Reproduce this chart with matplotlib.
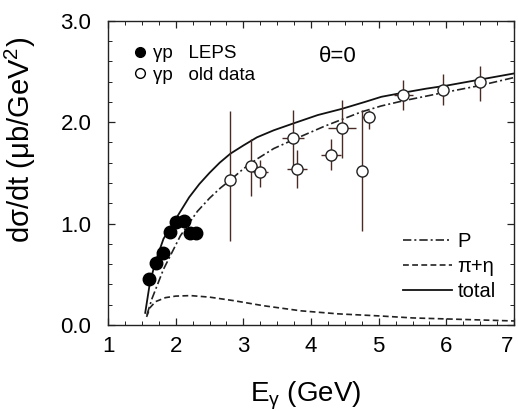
# phi photoproduction at theta=0, LEPS + old data with model curves

import numpy as np
from matplotlib import pyplot as plt
from matplotlib.ticker import MultipleLocator, FixedLocator
from matplotlib.lines import Line2D
from matplotlib.transforms import ScaledTranslation

plt.rcParams["font.family"] = ["Liberation Sans", "DejaVu Sans"]
plt.rcParams["mathtext.fontset"] = "custom"
plt.rcParams["mathtext.rm"] = "Liberation Sans"
plt.rcParams["mathtext.it"] = "Liberation Sans:italic"


# LEPS data (filled circles)
leps_e = [1.61, 1.71, 1.81, 1.92, 2.01, 2.12, 2.21, 2.30]
leps_ds = [0.45, 0.61, 0.71, 0.92, 1.02, 1.03, 0.91, 0.91]

# old data (open circles) with errors
old_e = [2.81, 3.11, 3.25, 3.73, 3.79, 4.30, 4.46, 4.75, 4.85, 5.36, 5.95, 6.49]
old_ds = [1.43, 1.57, 1.51, 1.84, 1.54, 1.68, 1.94, 1.52, 2.05, 2.27, 2.32, 2.40]
old_err_lo = [0.60, 0.30, 0.15, 0.32, 0.19, 0.15, 0.29, 0.59, 0.12, 0.15, 0.15, 0.19]
old_err_hi = [0.68, 0.26, 0.12, 0.28, 0.19, 0.15, 0.28, 0.60, 0.07, 0.15, 0.15, 0.15]
old_xerr = [0.0, 0.09, 0.11, 0.16, 0.15, 0.15, 0.21, 0.0, 0.09, 0.14, 0.08, 0.07]

# model curves
total_e = [1.55, 1.62, 1.70, 1.82, 1.95, 2.07, 2.20, 2.35, 2.50, 2.65, 2.81, 3.00,
           3.20, 3.45, 3.75, 4.10, 4.45, 4.80, 5.04, 5.36, 5.70, 6.00, 6.50, 7.00]
total_ds = [0.12, 0.42, 0.62, 0.85, 0.99, 1.12, 1.26, 1.39, 1.50, 1.60, 1.69, 1.77,
            1.85, 1.92, 1.99, 2.07, 2.13, 2.20, 2.25, 2.29, 2.33, 2.36, 2.42, 2.48]

pom_e = [1.575, 1.65, 1.82, 2.07, 2.32, 2.50, 2.66, 2.81, 3.00, 3.21, 3.45, 3.75,
         4.20, 4.74, 5.04, 5.36, 5.95, 6.49, 7.00]
pom_ds = [0.10, 0.26, 0.55, 0.88, 1.12, 1.25, 1.35, 1.43, 1.54, 1.64, 1.74, 1.83,
          1.96, 2.10, 2.16, 2.21, 2.29, 2.36, 2.44]

mes_e = [1.57, 1.62, 1.70, 1.85, 2.00, 2.22, 2.50, 2.86, 3.30, 3.85, 4.40, 5.00,
         5.50, 6.00, 6.50, 7.00]
mes_ds = [0.08, 0.17, 0.23, 0.27, 0.285, 0.29, 0.275, 0.24, 0.19, 0.14, 0.11, 0.09,
          0.07, 0.06, 0.05, 0.04]

x_ticks = [1, 2, 3, 4, 5, 6, 7]
y_ticks = [0.0, 1.0, 2.0, 3.0]


fig = plt.figure(figsize=(5.18, 4.11), dpi=100)
ax = fig.add_axes([0.2085, 0.2092, 0.7838, 0.7404])

dashdot = (0, (5, 1.8, 1.2, 1.8))
dashed = (0, (3.5, 2))

ax.plot(pom_e, pom_ds, color="#222222", lw=1.2, ls=dashdot, zorder=2)
ax.plot(mes_e, mes_ds, color="#222222", lw=1.2, ls=dashed, zorder=2)
ax.plot(total_e, total_ds, color="#111111", lw=1.3, zorder=2)

ax.errorbar(old_e, old_ds, yerr=[old_err_lo, old_err_hi], xerr=old_xerr,
            fmt="o", ms=8, mfc="white", mec="#222222", mew=1.0,
            ecolor="#4a2a24", elinewidth=1.0, capsize=0, zorder=3)
ax.plot(leps_e, leps_ds, "o", color="black", ms=9, zorder=4)

ax.text(4.40, 2.65, "θ=0", fontsize=16, ha="center", va="center")

# legends
leg1_handles = [
    Line2D([], [], ls="none", marker="o", color="black", ms=7),
    Line2D([], [], ls="none", marker="o", mfc="white", mec="black", ms=7),
]
leg1 = ax.legend(leg1_handles, ["γp   LEPS", "γp   old data"],
                 loc="upper left", bbox_to_anchor=(0.06, 0.92), frameon=False,
                 fontsize=13.5, handlelength=0.8, handletextpad=0.3,
                 labelspacing=0.25, borderpad=0, borderaxespad=0)
ax.add_artist(leg1)

leg2_handles = [
    Line2D([], [], color="#222222", lw=1.2, ls=dashdot),
    Line2D([], [], color="#222222", lw=1.2, ls=dashed),
    Line2D([], [], color="#111111", lw=1.3),
]
ax.legend(leg2_handles, ["P", "π+η", "total"], loc="upper left",
          bbox_to_anchor=(0.727, 0.305), frameon=False, fontsize=14.5,
          handlelength=2.4, handletextpad=0.3, labelspacing=0.3,
          borderpad=0, borderaxespad=0)

# axes
ax.set_xlim(1, 7)
ax.set_ylim(0, 3)
ax.xaxis.set_major_locator(FixedLocator(x_ticks))
ax.yaxis.set_major_locator(FixedLocator(y_ticks))
ax.set_yticklabels([f"{v:.1f}" for v in y_ticks])
ax.xaxis.set_minor_locator(MultipleLocator(0.25))
ax.yaxis.set_minor_locator(MultipleLocator(0.2))
ax.tick_params(which="both", direction="in", top=True, right=True, color="#222222")
ax.tick_params(which="major", length=5, width=0.9, labelsize=16)
ax.tick_params(which="minor", length=3, width=0.7)
ax.tick_params(axis="x", pad=8)
ax.tick_params(axis="y", pad=12)
for s in ax.spines.values():
    s.set_linewidth(1.0)
    s.set_color("#222222")

# last x label sits right at the figure edge, nudge it in a bit
last = ax.get_xticklabels()[-1]
last.set_transform(last.get_transform() + ScaledTranslation(-5 / 72, 0, fig.dpi_scale_trans))

ax.set_xlabel("E$_{\\rm γ}$ (GeV)", fontsize=20)
ax.xaxis.set_label_coords(0.488, -0.18)
ax.set_ylabel("dσ/dt (μb/GeV$^2$)", fontsize=21)
ax.yaxis.set_label_coords(-0.172, 0.607)

plt.savefig("out.png", dpi=100)
